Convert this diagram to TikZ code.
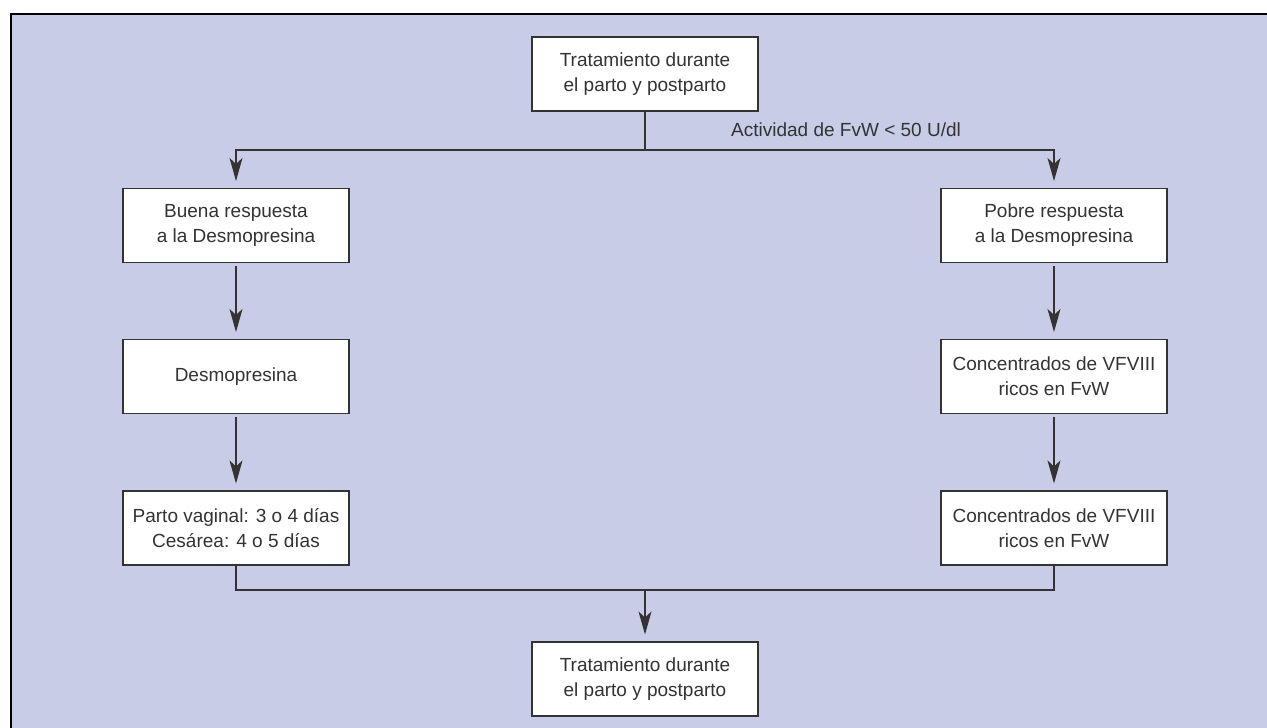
\documentclass[tikz,border=0pt]{standalone}
\usepackage{fontspec}
\setmainfont{Liberation Sans}
\usetikzlibrary{arrows.meta}
\definecolor{bgblue}{HTML}{C8CCE6}
\definecolor{ink}{HTML}{333333}
\begin{document}
\begin{tikzpicture}[x=1pt,y=-1pt,
  box/.style={draw=ink,line width=1.1pt,fill=white,minimum width=226pt,minimum height=74pt,
    inner sep=0pt,align=center,text=ink,font=\fontsize{19}{25}\selectfont},
  conn/.style={draw=ink,line width=1.1pt},
  arr/.style={conn,-{Stealth[length=23pt,width=13pt,inset=6pt]},shorten >=7pt}]
\useasboundingbox (0,0) rectangle (1267,728);
\fill[bgblue] (11,14) rectangle (1267,728);
\draw[black,line width=1.4pt] (11,728) -- (11,14) -- (1267,14);
\node[box] (top) at (645,74) {Tratamiento durante\\el parto y postparto};
\node[box] (b1) at (236,225.5) {Buena respuesta\\a la Desmopresina};
\node[box] (b2) at (236,376.5) {Desmopresina};
\node[box] (b3) at (236,528) {Parto vaginal: 3 o 4 días\\Cesárea: 4 o 5 días};
\node[box] (p1) at (1054,225.5) {Pobre respuesta\\a la Desmopresina};
\node[box] (p2) at (1054,376.5) {Concentrados de VFVIII\\ricos en FvW};
\node[box] (p3) at (1054,528) {Concentrados de VFVIII\\ricos en FvW};
\node[box] (bot) at (645,679) {Tratamiento durante\\el parto y postparto};
\coordinate (j1) at (645,150);
\coordinate (j2) at (645,590);
\node[anchor=west,text=ink,font=\fontsize{19}{25}\selectfont,inner sep=0pt] (lab) at (731,130) {Actividad de FvW < 50 U/dl};
\draw[conn] (top.south) -- (j1);
\draw[arr] (j1) -| (b1.north);
\draw[arr] (j1) -| (p1.north);
\draw[arr,shorten <=3pt] (b1.south) -- (b2.north);
\draw[arr,shorten <=3pt] (b2.south) -- (b3.north);
\draw[arr,shorten <=3pt] (p1.south) -- (p2.north);
\draw[arr,shorten <=3pt] (p2.south) -- (p3.north);
\draw[conn] (b3.south) |- (j2);
\draw[conn] (p3.south) |- (j2);
\draw[arr] (j2) -- (bot.north);
\end{tikzpicture}
\end{document}
